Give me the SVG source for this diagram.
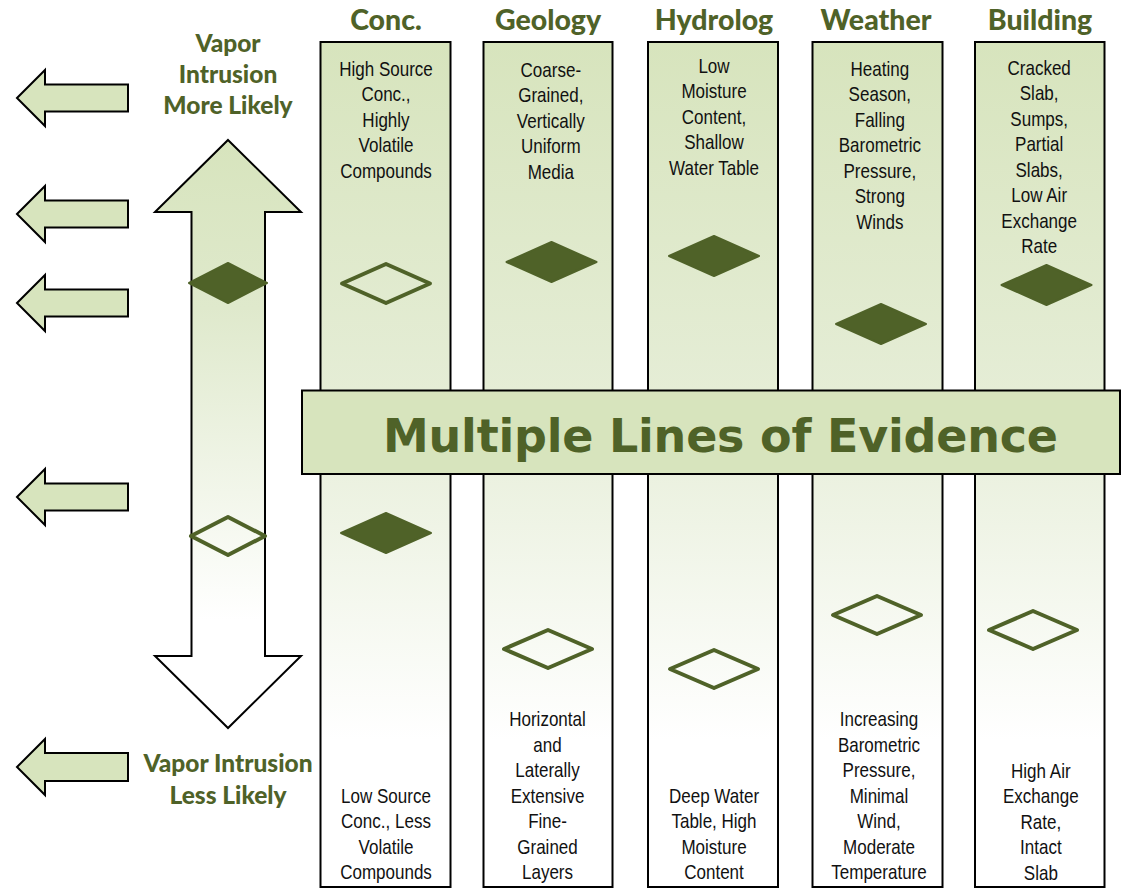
<svg xmlns="http://www.w3.org/2000/svg" width="1122" height="888" viewBox="0 0 1122 888">
<defs>
<linearGradient id="colGrad" gradientUnits="userSpaceOnUse" x1="0" y1="42" x2="0" y2="740">
<stop offset="0" stop-color="#d7e4bd"/>
<stop offset="0.5" stop-color="#e5edd6"/>
<stop offset="1" stop-color="#ffffff"/>
</linearGradient>
<linearGradient id="arrGrad" gradientUnits="userSpaceOnUse" x1="0" y1="140" x2="0" y2="620">
<stop offset="0" stop-color="#d7e4bd"/>
<stop offset="0.35" stop-color="#dfe9cc"/>
<stop offset="1" stop-color="#ffffff"/>
</linearGradient>
</defs>
<style>
.col{fill:url(#colGrad);stroke:#000;stroke-width:2}
.larr{fill:#d7e4bd;stroke:#000;stroke-width:2;stroke-linejoin:miter}
.dfill{fill:#4f6228;stroke:#4f6228;stroke-width:2;stroke-linejoin:round}
.dhol{fill:none;stroke:#4f6228;stroke-width:4;stroke-linejoin:round}
.hdr{font-family:Lato,"Liberation Sans",sans-serif;font-weight:900;font-size:28.5px;fill:#4f6228;text-anchor:middle}
.side{font-family:Lato,"Liberation Sans",sans-serif;font-weight:900;font-size:24.5px;fill:#4f6228;text-anchor:middle}
.ct{font-family:"Liberation Sans Narrow","Liberation Sans",sans-serif;font-size:20.5px;fill:#111111;text-anchor:middle}
.ban{font-family:"DejaVu Sans",sans-serif;font-weight:bold;font-size:46px;fill:#4f6228;text-anchor:middle}
</style>
<rect width="1122" height="888" fill="#ffffff"/>

<g id="left-arrows">
<path class="larr" d="M17,98 L45,70 L45,84.5 L128,84.5 L128,111.5 L45,111.5 L45,126 Z"/>
<path class="larr" d="M17,214 L45,186 L45,200.5 L128,200.5 L128,227.5 L45,227.5 L45,242 Z"/>
<path class="larr" d="M17,303 L45,275 L45,289.5 L128,289.5 L128,316.5 L45,316.5 L45,331 Z"/>
<path class="larr" d="M17,497 L45,469 L45,483.5 L128,483.5 L128,510.5 L45,510.5 L45,525 Z"/>
<path class="larr" d="M17,767 L45,739 L45,753 L128,753 L128,781 L45,781 L45,795 Z"/>
</g>

<g id="label-more">
<text class="side" x="228" y="52">Vapor</text>
<text class="side" x="228" y="83">Intrusion</text>
<text class="side" x="228" y="114">More Likely</text>
</g>
<g id="label-less">
<text class="side" x="228" y="772">Vapor Intrusion</text>
<text class="side" x="228" y="804">Less Likely</text>
</g>

<g id="scale-arrow">
<path d="M228,140 L301,212 L265,212 L265,656 L301,656 L228,728 L155,656 L191.5,656 L191.5,212 L155,212 Z" fill="url(#arrGrad)" stroke="#000" stroke-width="2"/>
<path class="dfill" d="M228,263 L267,283 L228,303 L189,283 Z"/>
<path class="dhol" d="M228,517 L265,536 L228,555 L191,536 Z"/>
</g>

<g id="col-conc">
<rect class="col" x="320.5" y="42" width="130" height="845"/>
<text class="hdr" x="386" y="30">Conc.</text>
<g transform="translate(386,0) scale(0.83,1) translate(-386,0)">
<text class="ct" x="386" y="76">High Source</text>
<text class="ct" x="386" y="101.5">Conc.,</text>
<text class="ct" x="386" y="127">Highly</text>
<text class="ct" x="386" y="152.5">Volatile</text>
<text class="ct" x="386" y="178">Compounds</text>
<text class="ct" x="386" y="803">Low Source</text>
<text class="ct" x="386" y="828.5">Conc., Less</text>
<text class="ct" x="386" y="854">Volatile</text>
<text class="ct" x="386" y="879.5">Compounds</text>
</g>
<path class="dhol" d="M386,264 L430,283.5 L386,303 L342,283.5 Z"/>
<path class="dfill" d="M386,513 L431,533 L386,553 L341,533 Z"/>
</g>

<g id="col-geology">
<rect class="col" x="483.5" y="42" width="129" height="845"/>
<text class="hdr" x="548" y="30">Geology</text>
<g transform="translate(550,0) scale(0.83,1) translate(-550,0)">
<text class="ct" x="551" y="77">Coarse-</text>
<text class="ct" x="551" y="102.5">Grained,</text>
<text class="ct" x="551" y="128">Vertically</text>
<text class="ct" x="551" y="153.5">Uniform</text>
<text class="ct" x="551" y="179">Media</text>
<text class="ct" x="547" y="726.5">Horizontal</text>
<text class="ct" x="547" y="752">and</text>
<text class="ct" x="547" y="777.5">Laterally</text>
<text class="ct" x="547" y="803">Extensive</text>
<text class="ct" x="547" y="828.5">Fine-</text>
<text class="ct" x="547" y="854">Grained</text>
<text class="ct" x="547" y="879.5">Layers</text>
</g>
<path class="dfill" d="M551.5,242 L596.5,262 L551.5,282 L506.5,262 Z"/>
<path class="dhol" d="M548,630 L592,649 L548,668 L504,649 Z"/>
</g>

<g id="col-hydrolog">
<rect class="col" x="648" y="42" width="130" height="845"/>
<text class="hdr" x="714" y="30">Hydrolog</text>
<g transform="translate(714,0) scale(0.83,1) translate(-714,0)">
<text class="ct" x="714" y="73">Low</text>
<text class="ct" x="714" y="98.5">Moisture</text>
<text class="ct" x="714" y="124">Content,</text>
<text class="ct" x="714" y="149.5">Shallow</text>
<text class="ct" x="714" y="175">Water Table</text>
<text class="ct" x="714" y="803">Deep Water</text>
<text class="ct" x="714" y="828.5">Table, High</text>
<text class="ct" x="714" y="854">Moisture</text>
<text class="ct" x="714" y="879.5">Content</text>
</g>
<path class="dfill" d="M714,236 L759,256 L714,276 L669,256 Z"/>
<path class="dhol" d="M714,650 L758,669 L714,688 L670,669 Z"/>
</g>

<g id="col-weather">
<rect class="col" x="812.5" y="42" width="130" height="845"/>
<text class="hdr" x="876" y="30">Weather</text>
<g transform="translate(879,0) scale(0.83,1) translate(-879,0)">
<text class="ct" x="880" y="76">Heating</text>
<text class="ct" x="880" y="101.5">Season,</text>
<text class="ct" x="880" y="127">Falling</text>
<text class="ct" x="880" y="152.5">Barometric</text>
<text class="ct" x="880" y="178">Pressure,</text>
<text class="ct" x="880" y="203.5">Strong</text>
<text class="ct" x="880" y="229">Winds</text>
<text class="ct" x="879" y="726.5">Increasing</text>
<text class="ct" x="879" y="752">Barometric</text>
<text class="ct" x="879" y="777.5">Pressure,</text>
<text class="ct" x="879" y="803">Minimal</text>
<text class="ct" x="879" y="828.5">Wind,</text>
<text class="ct" x="879" y="854">Moderate</text>
<text class="ct" x="879" y="879.5">Temperature</text>
</g>
<path class="dfill" d="M881,304 L926,324 L881,344 L836,324 Z"/>
<path class="dhol" d="M877,596 L921,615 L877,634 L833,615 Z"/>
</g>

<g id="col-building">
<rect class="col" x="975" y="42" width="129.5" height="845"/>
<text class="hdr" x="1040" y="30">Building</text>
<g transform="translate(1040,0) scale(0.83,1) translate(-1040,0)">
<text class="ct" x="1039" y="75">Cracked</text>
<text class="ct" x="1039" y="100.5">Slab,</text>
<text class="ct" x="1039" y="126">Sumps,</text>
<text class="ct" x="1039" y="151.5">Partial</text>
<text class="ct" x="1039" y="177">Slabs,</text>
<text class="ct" x="1039" y="202.5">Low Air</text>
<text class="ct" x="1039" y="228">Exchange</text>
<text class="ct" x="1039" y="253.5">Rate</text>
<text class="ct" x="1041" y="778">High Air</text>
<text class="ct" x="1041" y="803.5">Exchange</text>
<text class="ct" x="1041" y="829">Rate,</text>
<text class="ct" x="1041" y="854.5">Intact</text>
<text class="ct" x="1041" y="880">Slab</text>
</g>
<path class="dfill" d="M1046.5,265 L1091.5,285 L1046.5,305 L1001.5,285 Z"/>
<path class="dhol" d="M1033,611 L1077,630 L1033,649 L989,630 Z"/>
</g>

<g id="banner">
<rect x="302" y="390.5" width="818" height="83.5" fill="#d7e4bd" stroke="#000" stroke-width="2"/>
<text class="ban" x="720.5" y="452" textLength="675" lengthAdjust="spacing">Multiple Lines of Evidence</text>
</g>

<g id="connectors"></g>
</svg>
